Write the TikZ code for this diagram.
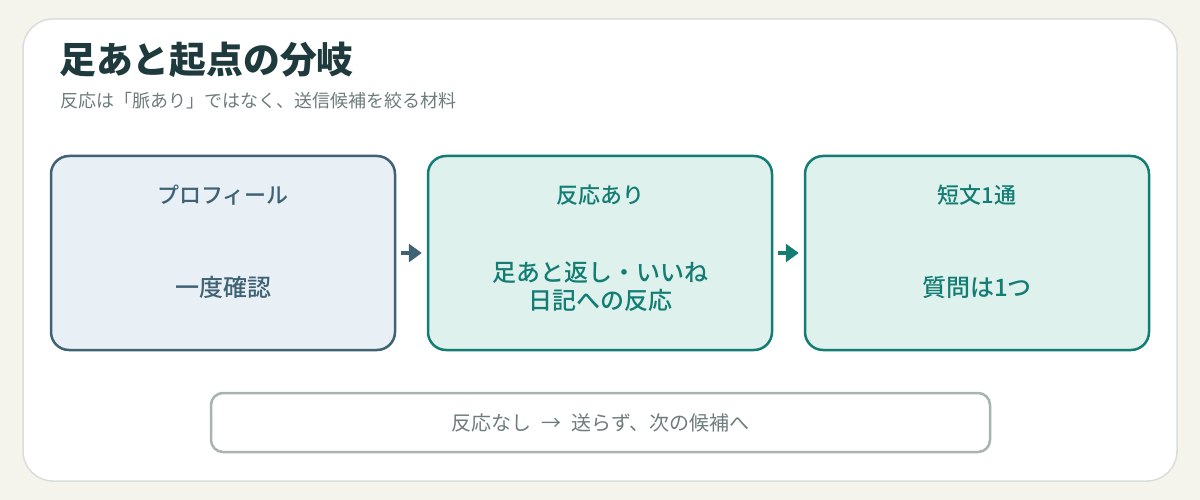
\documentclass[tikz,border=0pt]{standalone}
\usepackage{fontspec}
\setmainfont{Noto Sans CJK JP}
\newfontfamily\cjk{Noto Sans CJK JP}
\newfontfamily\cjkmed{Noto Sans CJK JP Medium}
\usetikzlibrary{arrows.meta}
\definecolor{bgc}{HTML}{F4F3EC}
\definecolor{cardline}{HTML}{D9DEDB}
\definecolor{titlec}{HTML}{1F3A3D}
\definecolor{subc}{HTML}{6E7C7C}
\definecolor{slate}{HTML}{3F6275}
\definecolor{slatefill}{HTML}{E8F0F5}
\definecolor{teal}{HTML}{137D74}
\definecolor{tealfill}{HTML}{DEF1EC}
\definecolor{grayline}{HTML}{A9B3B0}
\tikzset{
  stagebox/.style={draw, line width=2.5pt, rounded corners=18pt, minimum width=344pt, minimum height=194pt, inner sep=0pt},
  slatebox/.style={stagebox, draw=slate, fill=slatefill},
  tealbox/.style={stagebox, draw=teal, fill=tealfill},
  headtxt/.style={font=\cjkmed\fontsize{22}{26}\selectfont},
  bodytxt/.style={font=\cjkmed\fontsize{24}{28}\selectfont, align=center},
  conn/.style={line width=4.5pt, -{Triangle[length=13pt,width=18pt]}},
}
\begin{document}
\begin{tikzpicture}[x=1pt,y=-1pt]
\useasboundingbox (0,0) rectangle (1200,500);
\fill[bgc] (0,0) rectangle (1200,500);
\draw[cardline, fill=white, line width=1.5pt, rounded corners=30pt] (23,19) rectangle (1177,481);
\node[anchor=base west, text=titlec, font=\cjk\bfseries\fontsize{36.8}{40}\selectfont, inner sep=0pt] (title) at (59,74) {足あと起点の分岐};
\node[anchor=west, text=subc, font=\cjk\fontsize{18}{20}\selectfont, inner sep=0pt] (sub) at (60,101) {反応は「脈あり」ではなく、送信候補を絞る材料};

\node[slatebox] (b1) at (223,253) {};
\node[tealbox] (b2) at (600,253) {};
\node[tealbox] (b3) at (977,253) {};

\node[headtxt, text=slate] (h1) at (223,195) {プロフィール};
\node[bodytxt, text=slate] (t1) at (223,287) {一度確認};
\node[headtxt, text=teal] (h2) at (600,195) {反応あり};
\node[bodytxt, text=teal] (t2) at (600,287) {足あと返し・いいね\\日記への反応};
\node[headtxt, text=teal] (h3) at (977,195) {短文1通};
\node[bodytxt, text=teal] (t3) at (977,287) {質問は1つ};

\draw[conn, slate] ([xshift=5pt]b1.east) -- ([xshift=-5pt]b2.west);
\draw[conn, teal] ([xshift=5pt]b2.east) -- ([xshift=-5pt]b3.west);

\node[draw=grayline, fill=white, line width=2.5pt, rounded corners=12pt, minimum width=779pt, minimum height=59pt, text=subc, font=\cjk\fontsize{20}{24}\selectfont] (nb) at (600.5,422.5) {反応なし\hspace{10pt}→\hspace{10pt}送らず、次の候補へ};
\end{tikzpicture}
\end{document}
